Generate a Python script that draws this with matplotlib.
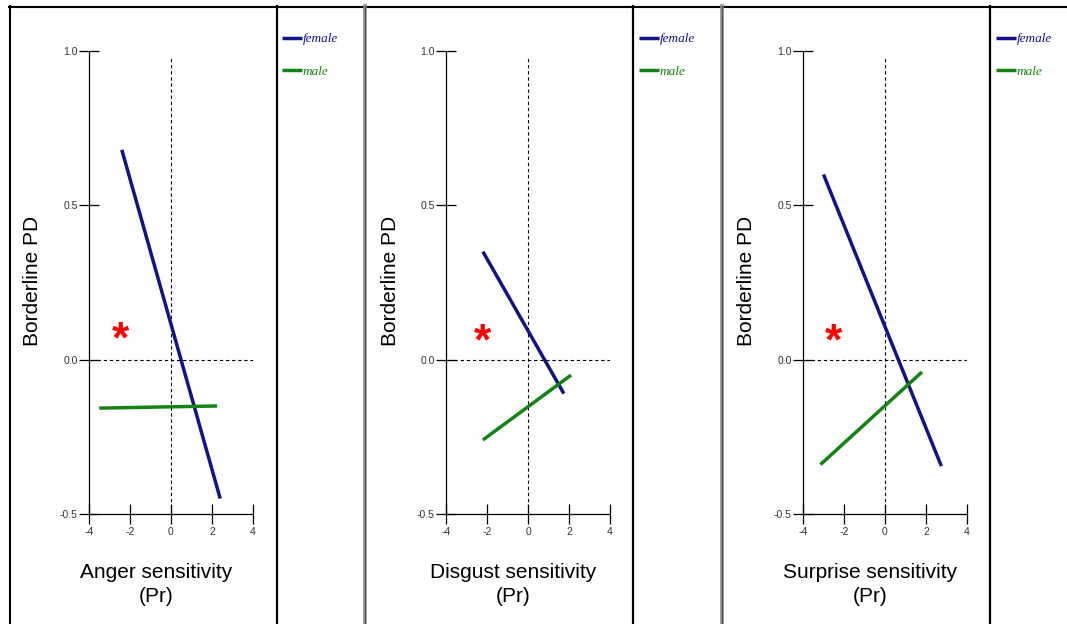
import matplotlib
matplotlib.use("Agg")
import matplotlib.pyplot as plt

W, H = 1067, 624

# data (regression lines by sex, one panel per emotion)
panel_labels = ["Anger sensitivity", "Disgust sensitivity", "Surprise sensitivity"]
female_x = [[-2.4, 2.4], [-2.2, 1.75], [-3.0, 2.75]]
female_y = [[0.68, -0.45], [0.35, -0.11], [0.60, -0.345]]
male_x = [[-3.5, 2.25], [-2.2, 2.1], [-3.15, 1.8]]
male_y = [[-0.157, -0.15], [-0.26, -0.05], [-0.34, -0.04]]
star_x = [-2.45, -2.2, -2.5]
star_y = [0.06, 0.055, 0.055]
xticks = [-4, -2, 0, 2, 4]
yticks = [-0.5, 0.0, 0.5, 1.0]
ytick_labels = ["-0.5", "0.0", "0.5", "1.0"]
legend_labels = ["female", "male"]

female_col = "#12128a"
male_col = "#138413"

plt.rcParams['font.family'] = ['Liberation Sans', 'DejaVu Sans']
plt.rcParams['axes.unicode_minus'] = False

fig = plt.figure(figsize=(W / 100, H / 100), dpi=100)
fig.patch.set_facecolor("white")

# background layer in pixel units for the frame lines
bg = fig.add_axes([0, 0, 1, 1])
bg.set_xlim(0, W)
bg.set_ylim(H, 0)
bg.axis("off")
bg.plot([9, W], [6.5, 6.5], color="black", lw=1.5)
bg.plot([9.5, 9.5], [6, H], color="black", lw=1.5)
for x in [277, 633, 990]:
    bg.plot([x, x], [6, H], color="black", lw=1.6)
for x in [364.5, 721.5]:
    bg.plot([x, x], [6, H], color="#8c8c8c", lw=2.6)
    bg.plot([x, x], [6, H], color="#404040", lw=0.6)

for i in range(3):
    x0 = 9 + 357 * i
    ax = fig.add_axes([(x0 + 80) / W, (H - 514) / H, 164 / W, 463 / H])
    ax.set_xlim(-4, 4)
    ax.set_ylim(-0.5, 1.0)
    ax.patch.set_alpha(0)
    for s in ["top", "right"]:
        ax.spines[s].set_visible(False)
    for s in ["left", "bottom"]:
        ax.spines[s].set_linewidth(0.9)
    ax.set_xticks(xticks)
    ax.set_yticks(yticks)
    ax.set_yticklabels(ytick_labels)
    ax.tick_params(direction="inout", length=14, width=0.9, labelsize=7.5,
                   labelcolor="#333333")
    ax.tick_params(axis="y", pad=1)
    ax.tick_params(axis="x", pad=2.5)

    # reference lines at zero
    ax.axvline(0, ymax=0.985, color="black", lw=0.8, ls=(0, (3, 2.5)))
    ax.axhline(0, xmin=0.015, color="black", lw=0.8, ls=(0, (3, 2.5)))

    ax.plot(female_x[i], female_y[i], color=female_col, lw=2.5,
            solid_capstyle="butt", label=legend_labels[0])
    ax.plot(male_x[i], male_y[i], color=male_col, lw=2.5,
            solid_capstyle="butt", label=legend_labels[1])

    ax.text(star_x[i], star_y[i], "*", color="red", fontsize=32,
            fontweight="bold", ha="center", va="center")

    ax.legend(loc="upper left", bbox_to_anchor=((x0 + 273) / W, 1 - 33 / H),
              bbox_transform=fig.transFigure, frameon=False,
              borderpad=0, borderaxespad=0, handlelength=1.5,
              handletextpad=0.05, labelspacing=1.55, labelcolor="linecolor",
              prop={"family": "Liberation Serif", "style": "italic", "size": 9.5})

    fig.text((x0 + 24) / W, 1 - 281 / H, "Borderline PD", rotation=90,
             ha="center", va="center", fontsize=15)
    fig.text((x0 + 147) / W, 1 - 573 / H, panel_labels[i],
             ha="center", va="center", fontsize=15)
    fig.text((x0 + 147) / W, 1 - 597 / H, "(Pr)",
             ha="center", va="center", fontsize=15)

fig.savefig("out.png", dpi=100)
